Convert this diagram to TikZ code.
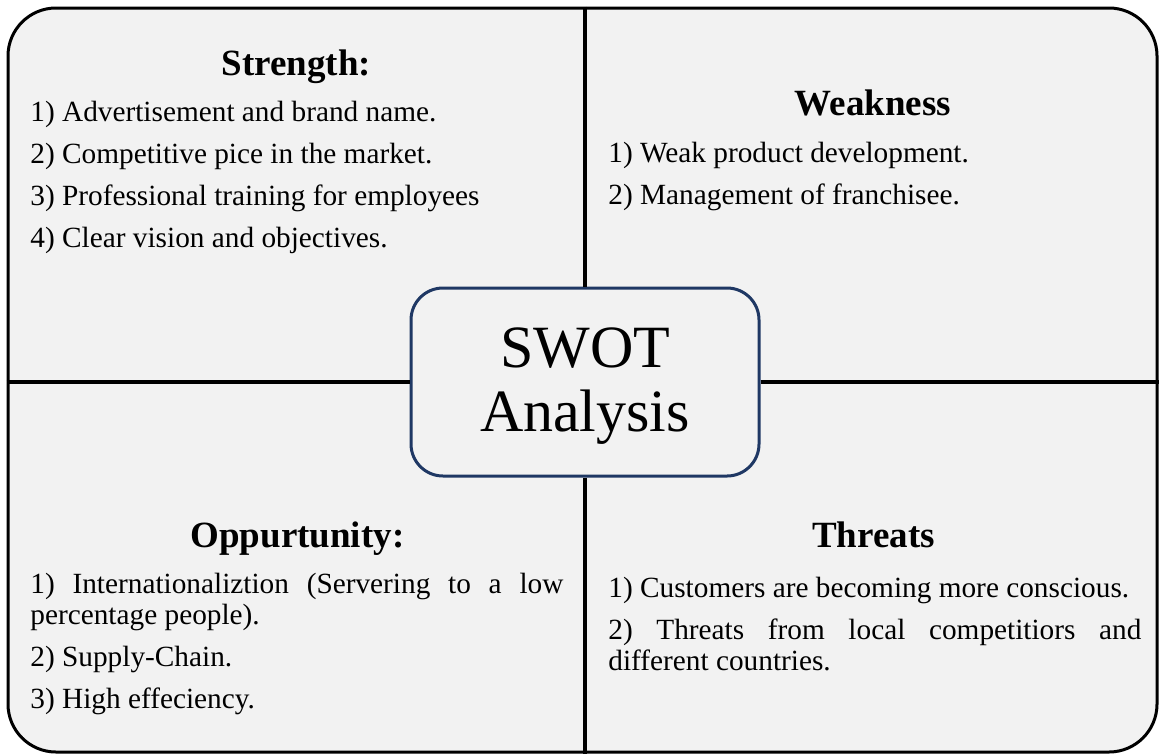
\documentclass[tikz,border=0pt]{standalone}
\usepackage{fontspec}
\setmainfont{Liberation Serif}
\definecolor{panelgray}{HTML}{F2F2F2}
\definecolor{swotblue}{HTML}{1F3864}

\begin{document}
\begin{tikzpicture}[
  x=0.5pt,y=-0.5pt,
  every node/.style={inner sep=0pt},
  frame/.style={draw,line width=1.5pt,fill=panelgray,rounded corners=24pt,
    minimum width=574.5pt,minimum height=372pt},
  divider/.style={line width=2pt},
  heading/.style={anchor=base,font=\fontsize{18.5}{22}\selectfont\bfseries},
  itemlist/.style={anchor=north west,text width=266.5pt,align=justify,
    font=\fontsize{14.65}{15.5}\selectfont,
    execute at begin node={\setlength{\parindent}{0pt}\setlength{\parskip}{5.5pt}\strut}},
  swot/.style={draw=swotblue,line width=1.5pt,fill=panelgray,rounded corners=16pt,
    minimum width=174pt,minimum height=94pt,align=center,
    font=\fontsize{30}{32}\selectfont},
  ]
  \useasboundingbox (0,0) rectangle (1159,755);
  \node (frame) [frame] at (582.5,380) {};
  \node (swot) [swot] at (585,382) {\rule{0pt}{24.3pt}SWOT\\Analysis};
  % cross between the four parts
  \draw[divider] (frame.north -| swot.center) -- (swot.north);
  \draw[divider] (swot.south) -- (frame.south -| swot.center);
  \draw[divider] (frame.west |- swot.center) -- (swot.west);
  \draw[divider] (swot.east) -- (frame.east |- swot.center);
  % headings
  \node (strength) [heading] at (296.5,75) {Strength:};
  \node (weakness) [heading] at (873,115) {Weakness};
  \node (opportunity) [heading] at (297.5,547) {Oppurtunity:};
  \node (threats) [heading] at (873.5,547) {Threats};
  % lists
  \node (strength-list) [itemlist] at (30,99.3) {1) Advertisement and brand name.\par
    2) Competitive pice in the market.\par
    3) Professional training for employees\par
    4) Clear vision and objectives.};
  \node (weakness-list) [itemlist] at (608,140.3) {1) Weak product development.\par
    2) Management of franchisee.};
  \node (opportunity-list) [itemlist] at (30,571.3) {1) Internationaliztion (Servering to a low\linebreak
    percentage people).\par
    2) Supply-Chain.\par
    3) High effeciency.};
  \node (threats-list) [itemlist] at (608,575.3) {1) Customers are becoming more conscious.\par
    2) Threats from local competitiors and\linebreak
    different countries.};
\end{tikzpicture}
\end{document}
